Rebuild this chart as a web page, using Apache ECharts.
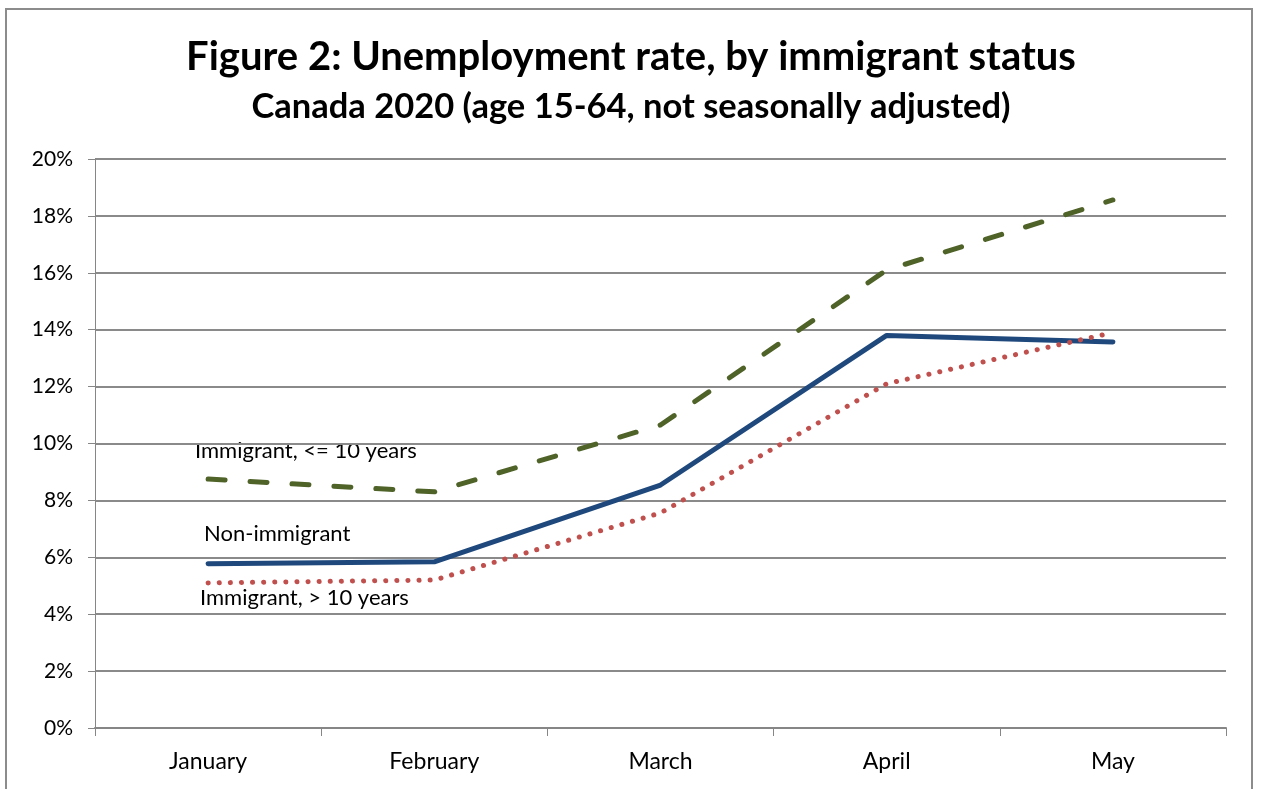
<!DOCTYPE html>
<html>
<head>
<meta charset="utf-8">
<script src="https://cdn.jsdelivr.net/npm/echarts@6/dist/echarts.min.js"></script>
<style>
  html, body { margin: 0; padding: 0; background: #fff; }
  #frame { position: absolute; left: 5px; top: 8px; width: 1248px; height: 800px; border: 2px solid #8c8c8c; box-sizing: border-box; }
  #main { position: absolute; left: 0; top: 0; width: 1262px; height: 789px; }
</style>
</head>
<body>
<div id="frame"></div>
<div id="main"></div>
<script>
// months on the x axis
var months = ['January', 'February', 'March', 'April', 'May'];

// unemployment rate in %
var nonImmigrant = [5.77, 5.84, 8.54, 13.8, 13.57];
var recentImmigrant = [8.75, 8.3, 10.65, 16.1, 18.56];   // <= 10 years
var establishedImmigrant = [5.1, 5.2, 7.56, 12.1, 13.9]; // > 10 years

var yTicks = [0, 2, 4, 6, 8, 10, 12, 14, 16, 18, 20];

var fontName = 'Lato, "Open Sans", sans-serif';

function drawChart(){
    var myChart = echarts.init(document.getElementById('main'));

    var option = {
        animation: false,
        textStyle: { fontFamily: fontName },
        title: [
            {
                text: 'Figure 2: Unemployment rate, by immigrant status',
                left: 'center',
                top: 32,
                textStyle: { fontSize: 40, fontWeight: 'bold', color: '#000', fontFamily: fontName }
            },
            {
                text: 'Canada 2020 (age 15-64, not seasonally adjusted)',
                left: 'center',
                top: 84,
                textStyle: { fontSize: 34.5, fontWeight: 'bold', color: '#000', fontFamily: fontName }
            }
        ],
        grid: { left: 95, right: 36, top: 159, bottom: 61 },
        xAxis: {
            type: 'category',
            data: months,
            boundaryGap: true,
            axisLine: { lineStyle: { color: '#868686', width: 2 } },
            axisTick: { show: true, length: 8, lineStyle: { color: '#868686', width: 1 } },
            axisLabel: { color: '#000', fontSize: 23, margin: 22 },
            splitLine: { show: false }
        },
        yAxis: {
            type: 'value',
            min: yTicks[0],
            max: yTicks[yTicks.length - 1],
            interval: 2,
            axisLine: { show: true, lineStyle: { color: '#868686', width: 1 } },
            axisTick: { show: true, length: 7, lineStyle: { color: '#868686' } },
            axisLabel: { color: '#000', fontSize: 21, margin: 22, formatter: '{value}%' },
            splitLine: { lineStyle: { color: '#8a8a8a', width: 2 } }
        },
        series: [
            {
                name: 'Immigrant, <= 10 years',
                type: 'line',
                data: recentImmigrant,
                symbol: 'none',
                lineStyle: { color: '#4F6228', width: 5, type: [17, 25], cap: 'round' }
            },
            {
                name: 'Non-immigrant',
                type: 'line',
                data: nonImmigrant,
                symbol: 'none',
                lineStyle: { color: '#1F497D', width: 5, cap: 'round' }
            },
            {
                name: 'Immigrant, > 10 years',
                type: 'line',
                data: establishedImmigrant,
                symbol: 'none',
                lineStyle: { color: '#C0504D', width: 5, type: [0.1, 11], cap: 'round' }
            }
        ],
        graphic: [
            { type: 'text', left: 195, top: 440, style: { text: 'Immigrant, <= 10 years', fontSize: 22, fill: '#000', fontFamily: fontName } },
            { type: 'text', left: 204, top: 523, style: { text: 'Non-immigrant', fontSize: 22, fill: '#000', fontFamily: fontName } },
            { type: 'text', left: 200, top: 587, style: { text: 'Immigrant, > 10 years', fontSize: 22, fill: '#000', fontFamily: fontName } }
        ]
    };

    myChart.setOption(option);
}

drawChart();
</script>
</body>
</html>
